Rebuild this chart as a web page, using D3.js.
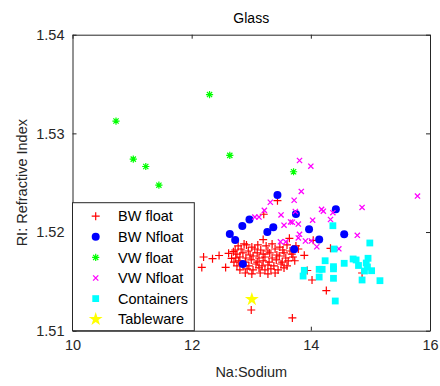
<!DOCTYPE html>
<html>
<head>
<meta charset="utf-8">
<script src="https://cdn.jsdelivr.net/npm/d3@7"></script>
<style>
  body { margin: 0; background: #fff; }
  text { font-family: "Liberation Sans", Arial, sans-serif; }
</style>
</head>
<body>
<div id="chart"></div>
<script>
// groups, in gscatter order
var groups = ["BW float", "BW Nfloat", "VW float", "VW Nfloat", "Containers", "Tableware"];

// [Na, RI] per group
var bwFloat = [
  [13.44,1.52318],[13.21,1.52180],[13.20,1.51924],[13.64,1.51936],[14.04,1.51916],[14.33,1.51835],
  [13.89,1.51764],[13.73,1.51709],[13.94,1.51610],[14.02,1.51514],[14.26,1.51407],[14.86,1.51585],
  [13.00,1.51210],[13.69,1.51129],[12.92,1.51869],[12.17,1.51641],[12.20,1.51747],[12.35,1.51730],
  [12.46,1.51762],[12.57,1.51641],[12.62,1.51784],[12.67,1.51734],[12.70,1.51801],
  [12.78,1.51859],[12.88,1.51879],[13.01,1.51848],[13.11,1.51869],[13.25,1.51859],[13.35,1.51879],
  [13.48,1.51848],[13.60,1.51869],[13.75,1.51859],
  [12.73,1.51818],[12.83,1.51828],[12.95,1.51808],[13.06,1.51828],[13.16,1.51818],[13.28,1.51808],
  [13.40,1.51828],[13.53,1.51818],[13.65,1.51808],[13.79,1.51828],
  [12.76,1.51777],[12.86,1.51788],[12.98,1.51767],[13.10,1.51788],[13.20,1.51777],[13.31,1.51788],
  [13.43,1.51767],[13.55,1.51788],[13.68,1.51777],
  [12.74,1.51737],[12.81,1.51747],[12.91,1.51737],[13.03,1.51757],[13.13,1.51737],[13.23,1.51747],
  [13.35,1.51737],[13.47,1.51757],[13.58,1.51737],[13.70,1.51747],
  [12.71,1.51696],[12.79,1.51707],[12.90,1.51696],[13.00,1.51717],[13.10,1.51696],[13.20,1.51707],
  [13.30,1.51696],[13.42,1.51717],[13.52,1.51696],[13.62,1.51707],
  [12.76,1.51656],[12.86,1.51666],[12.96,1.51656],[13.08,1.51676],[13.18,1.51656],[13.28,1.51666],
  [13.38,1.51656],[13.50,1.51676],[13.60,1.51656],
  [12.81,1.51616],[12.93,1.51626],[13.03,1.51616],[13.13,1.51636],[13.23,1.51616],[13.33,1.51626],
  [13.45,1.51616],[13.55,1.51636],
  [12.90,1.51585],[13.01,1.51575],[13.15,1.51585],[13.28,1.51575],[13.40,1.51585]
];
var bwNfloat = [
  [12.64,1.51980],[12.73,1.51919],[12.85,1.52061],[12.97,1.52127],[12.86,1.51676],[13.27,1.52000],
  [13.37,1.52048],[13.44,1.52375],[13.75,1.52183],[13.72,1.51825],[13.97,1.52028],[14.14,1.51924],
  [14.42,1.52230],[14.56,1.51977]
];
var vwFloat = [
  [10.73,1.53125],[11.02,1.52739],[11.23,1.52664],[11.45,1.52475],[12.30,1.53393],[12.64,1.52777],
  [13.71,1.52611]
];
var vwNfloat = [
  [13.81,1.52725],[14.00,1.52667],[13.84,1.52411],[13.32,1.52302],[13.72,1.52322],[13.22,1.52220],
  [13.06,1.52152],[13.13,1.52152],[13.50,1.52173],[13.74,1.52208],[14.18,1.52230],[14.21,1.52211],
  [14.37,1.52196],[14.86,1.52249],[15.79,1.52365],[14.03,1.52120],[14.33,1.52127],[13.66,1.52102],
  [13.69,1.52099],[13.79,1.52081],[13.55,1.52069],[13.81,1.51977],[13.79,1.51940],[13.91,1.51909],
  [14.01,1.51909],[14.10,1.51851],[13.49,1.51901],[13.58,1.51901],[14.78,1.51967],[14.47,1.51830]
];
var containers = [
  [14.37,1.52064],[14.99,1.51889],[14.39,1.51828],[14.24,1.51709],[14.71,1.51727],[14.76,1.51717],
  [14.96,1.51734],[14.56,1.51683],[14.80,1.51661],[14.93,1.51686],[14.95,1.51646],[14.90,1.51605],
  [15.02,1.51608],[14.38,1.51649],[14.38,1.51627],[14.14,1.51622],[14.19,1.51622],[13.89,1.51612],
  [13.87,1.51554],[14.14,1.51544],[14.38,1.51531],[14.86,1.51514],[15.16,1.51507],[14.41,1.51301]
];
var tableware = [[13.01,1.51318]];

var xTicks = [10, 12, 14, 16];
var yTicks = [1.51, 1.52, 1.53, 1.54];

var W = 440, H = 386;
var mLeft = 72.5, mRight = 430, mTop = 34.7, mBottom = 330.7;
var axisColor = "#262626";

var svg = d3.select("#chart").append("svg")
    .attr("width", W)
    .attr("height", H);

var x = d3.scaleLinear().domain([10, 16]).range([mLeft, mRight]);
var y = d3.scaleLinear().domain([1.51, 1.54]).range([mBottom, mTop]);

// marker drawing
function plusPath(s) { return "M" + (-s) + ",0H" + s + "M0," + (-s) + "V" + s; }
function crossPath(s) { return "M" + (-s) + "," + (-s) + "L" + s + "," + s + "M" + (-s) + "," + s + "L" + s + "," + (-s); }

var styles = [
  function(g) { g.append("path").attr("d", plusPath(4)).attr("stroke", "#ff0000").attr("stroke-width", 1.2).attr("fill", "none"); },
  function(g) { g.append("circle").attr("r", 4).attr("fill", "#0000ff"); },
  function(g) { g.append("path").attr("d", plusPath(3.6) + crossPath(2.6)).attr("stroke", "#00ff00").attr("stroke-width", 1.2).attr("fill", "none"); },
  function(g) { g.append("path").attr("d", crossPath(2.6)).attr("stroke", "#ff00ff").attr("stroke-width", 1.3).attr("fill", "none"); },
  function(g) { g.append("rect").attr("x", -3.4).attr("y", -3.4).attr("width", 6.8).attr("height", 6.8).attr("fill", "#00ffff"); },
  function(g) { g.append("path").attr("d", d3.symbol().type(d3.symbolStar).size(60)()).attr("fill", "#ffff00"); }
];

var series = [bwFloat, bwNfloat, vwFloat, vwNfloat, containers, tableware];

var plot = svg.append("g");
series.forEach(function(data, i) {
  plot.append("g").selectAll("g")
    .data(data)
    .join("g")
    .attr("transform", function(d) { return "translate(" + x(d[0]) + "," + y(d[1]) + ")"; })
    .each(function() { styles[i](d3.select(this)); });
});

// axes box with inward ticks
var xAxisB = d3.axisBottom(x).tickValues(xTicks).tickSizeInner(-4).tickSizeOuter(0).tickPadding(9).tickFormat(d3.format("d"));
var xAxisT = d3.axisTop(x).tickValues(xTicks).tickSizeInner(-4).tickSizeOuter(0).tickFormat("");
var yAxisL = d3.axisLeft(y).tickValues(yTicks).tickSizeInner(-4).tickSizeOuter(0).tickPadding(8).tickFormat(d3.format(".2f"));
var yAxisR = d3.axisRight(y).tickValues(yTicks).tickSizeInner(-4).tickSizeOuter(0).tickFormat("");

var gxb = svg.append("g").attr("transform", "translate(0," + mBottom + ")").call(xAxisB);
var gxt = svg.append("g").attr("transform", "translate(0," + mTop + ")").call(xAxisT);
var gyl = svg.append("g").attr("transform", "translate(" + mLeft + ",0)").call(yAxisL);
var gyr = svg.append("g").attr("transform", "translate(" + mRight + ",0)").call(yAxisR);

[gxb, gxt, gyl, gyr].forEach(function(g) {
  g.select(".domain").attr("stroke", axisColor).attr("stroke-width", 1);
  g.selectAll(".tick line").attr("stroke", axisColor);
  g.selectAll(".tick text").attr("fill", axisColor).style("font-size", "14.5px")
    .style("font-family", "'Liberation Sans', Arial, sans-serif");
});

// title and labels
svg.append("text").attr("x", (mLeft + mRight) / 2).attr("y", 23)
  .attr("text-anchor", "middle").style("font-size", "14px").attr("fill", "#000").text("Glass");
svg.append("text").attr("x", (mLeft + mRight) / 2).attr("y", 377)
  .attr("text-anchor", "middle").style("font-size", "14.5px").attr("fill", axisColor).text("Na:Sodium");
svg.append("text").attr("transform", "translate(27," + ((mTop + mBottom) / 2) + ") rotate(-90)")
  .attr("text-anchor", "middle").style("font-size", "14.5px").attr("fill", axisColor).text("RI: Refractive Index");

// legend
var leg = svg.append("g").attr("transform", "translate(" + mLeft + ",202.7)");
leg.append("rect").attr("width", 121.8).attr("height", 128)
  .attr("fill", "#fff").attr("stroke", axisColor).attr("stroke-width", 1);
groups.forEach(function(name, i) {
  var cy = 13.5 + i * 20.6;
  var m = leg.append("g").attr("transform", "translate(23.2," + cy + ")");
  styles[i](m);
  leg.append("text").attr("x", 45.5).attr("y", cy + 5.2)
    .style("font-size", "14.5px").attr("fill", "#000").text(name);
});
</script>
</body>
</html>
